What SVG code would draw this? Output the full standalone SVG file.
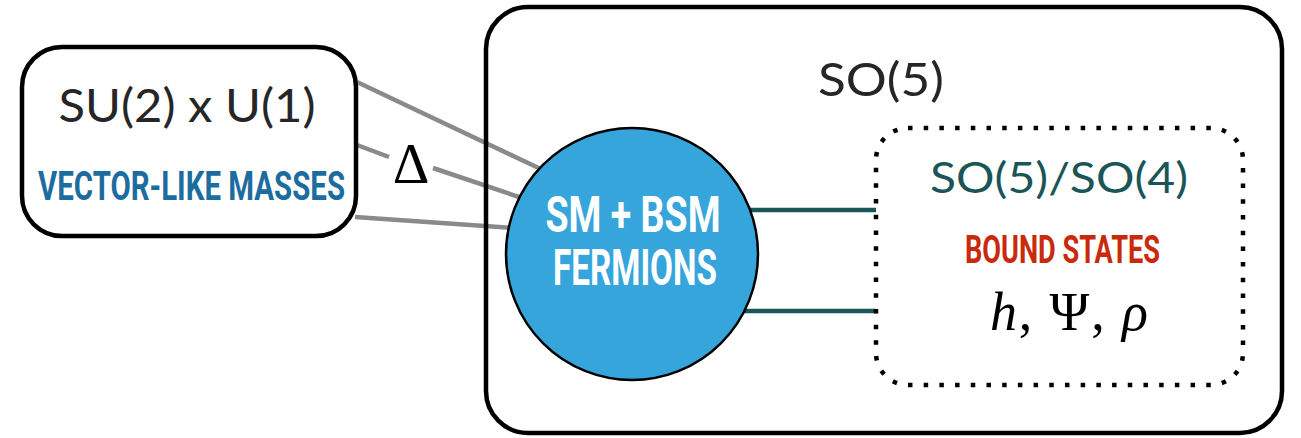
<svg xmlns="http://www.w3.org/2000/svg" width="1301" height="438" viewBox="0 0 1301 438">
<style>
.box{fill:#fff;stroke:#000;stroke-width:4.5}
.grey{stroke:#888b8b;stroke-width:4.5;fill:none}
.teal{stroke:#1b5557;stroke-width:4.5;fill:none}
.sans{font-family:Lato,"Open Sans","Liberation Sans",sans-serif;fill:#262626}
.cond{font-family:"Liberation Sans Narrow",Roboto,"Liberation Sans",sans-serif;font-weight:700}
.math{font-family:"Liberation Serif","DejaVu Serif",serif;fill:#000}
</style>
<rect width="1301" height="438" fill="#fff"/>
<g id="so5">
<rect x="486" y="7" width="796" height="426" rx="42" fill="#fff"/>
</g>
<g id="connectors">
<line class="grey" x1="357" y1="82" x2="545" y2="171"/>
<line class="grey" x1="357" y1="145" x2="389" y2="157"/>
<line class="grey" x1="433" y1="168" x2="525" y2="199"/>
<line class="grey" x1="355" y1="217" x2="512" y2="228"/>
<line class="teal" x1="740" y1="210" x2="876" y2="210"/>
<line class="teal" x1="740" y1="311" x2="876" y2="311"/>
</g>
<g id="so5-frame">
<rect x="486" y="7" width="796" height="426" rx="42" fill="none" stroke="#000" stroke-width="4.5"/>
<text class="sans" x="881" y="96" font-size="46" text-anchor="middle" textLength="126" lengthAdjust="spacingAndGlyphs">SO(5)</text>
</g>
<g id="su2u1">
<rect class="box" x="22" y="47" width="334" height="189" rx="40"/>
<text class="sans" x="187" y="122" font-size="46" text-anchor="middle" textLength="257" lengthAdjust="spacingAndGlyphs">SU(2) x U(1)</text>
<text class="cond" transform="translate(191.5,200) scale(1,1.43)" x="0" y="0" font-size="28" text-anchor="middle" fill="#1d6c9f" textLength="307" lengthAdjust="spacingAndGlyphs">VECTOR-LIKE MASSES</text>
</g>
<g id="delta">
<text class="math" x="411" y="183" font-size="57" text-anchor="middle">Δ</text>
</g>
<g id="fermions">
<circle cx="632" cy="254" r="126" fill="#35a5db" stroke="#000" stroke-width="2.5"/>
<text class="cond" x="633" y="232" font-size="50" text-anchor="middle" fill="#fff" textLength="175" lengthAdjust="spacingAndGlyphs">SM + BSM</text>
<text class="cond" x="635" y="285" font-size="50" text-anchor="middle" fill="#fff" textLength="164" lengthAdjust="spacingAndGlyphs">FERMIONS</text>
</g>
<g id="boundstates">
<rect x="876" y="128" width="367" height="257" rx="32" fill="none" stroke="#000" stroke-width="4.5" stroke-dasharray="4.5 11.2"/>
<text class="sans" x="1059" y="193" font-size="43" text-anchor="middle" style="fill:#1b5557" textLength="258" lengthAdjust="spacingAndGlyphs">SO(5)/SO(4)</text>
<text class="cond" x="1062.5" y="263" font-size="39" text-anchor="middle" fill="#c92a0b" textLength="195" lengthAdjust="spacingAndGlyphs">BOUND STATES</text>
<text class="math" x="1069" y="330" font-size="54" text-anchor="middle" textLength="158" lengthAdjust="spacing"><tspan font-style="italic">h</tspan>, Ψ, <tspan font-style="italic">ρ</tspan></text>
</g>
</svg>
